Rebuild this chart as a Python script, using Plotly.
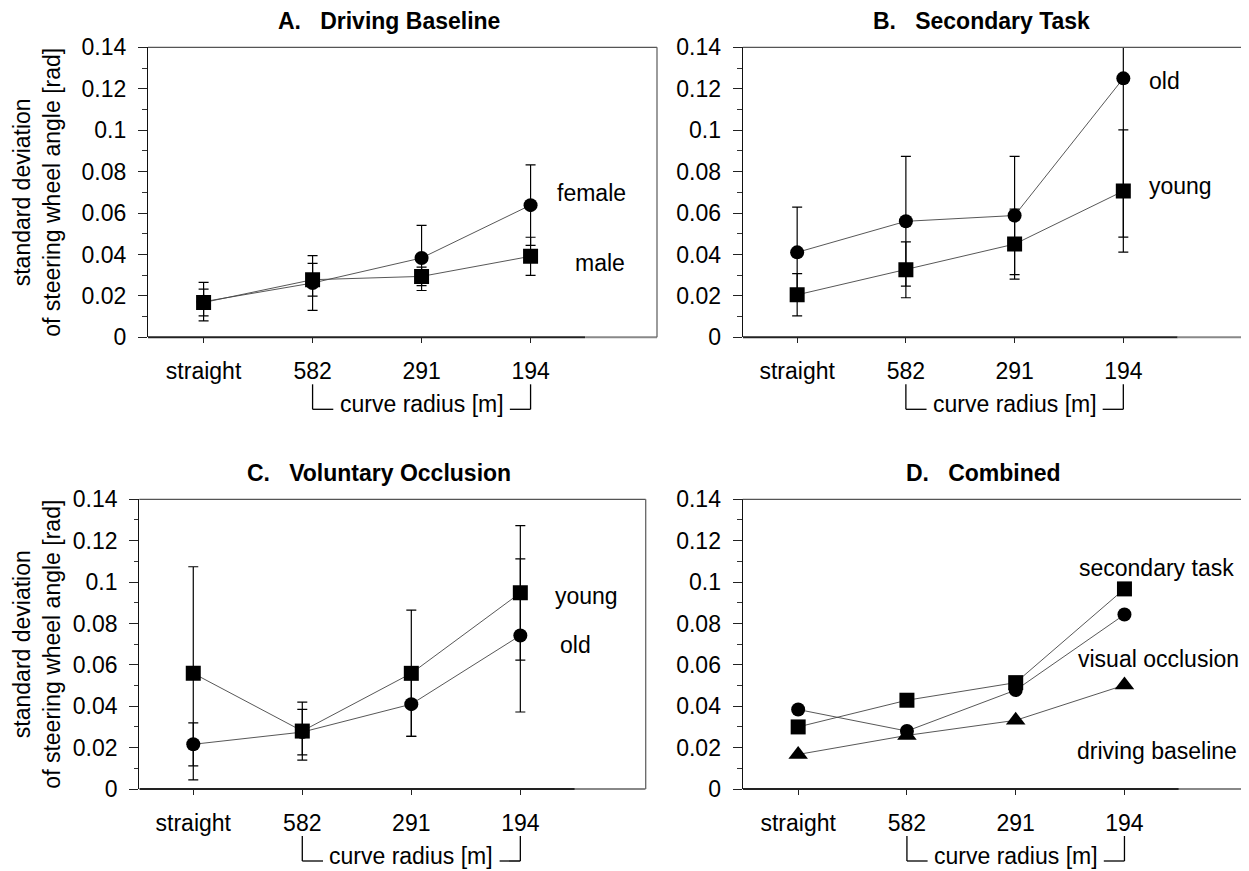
import plotly.graph_objects as go

# ---------------- data ----------------
categories = ["straight", "582", "291", "194"]
y_tick_vals = [0, 0.02, 0.04, 0.06, 0.08, 0.1, 0.12, 0.14]
y_tick_text = ["0", "0.02", "0.04", "0.06", "0.08", "0.1", "0.12", "0.14"]

# A. Driving Baseline
a_female = [0.0172, 0.0262, 0.0383, 0.0638]
a_female_err = [0.0093, 0.0132, 0.0157, 0.0194]
a_male = [0.0168, 0.0278, 0.0294, 0.0391]
a_male_err = [0.0065, 0.0079, 0.0045, 0.0092]

# B. Secondary Task
b_old = [0.0410, 0.0560, 0.0588, 0.1250]
b_old_err = [0.0218, 0.0313, 0.0285, 0.0766]
b_young = [0.0205, 0.0326, 0.0450, 0.0706]
b_young_err = [0.0102, 0.0135, 0.0169, 0.0295]

# C. Voluntary Occlusion
c_young = [0.0559, 0.0280, 0.0559, 0.0948]
c_young_err = [0.0515, 0.0140, 0.0305, 0.0325]
c_old = [0.0216, 0.0275, 0.0410, 0.0742]
c_old_err = [0.0104, 0.0110, 0.0155, 0.0370]

# D. Combined
d_secondary = [0.0300, 0.0429, 0.0514, 0.0967]
d_occlusion = [0.0384, 0.0280, 0.0478, 0.0843]
d_baseline = [0.0167, 0.0259, 0.0332, 0.0502]

titles = ["A.\u00a0\u00a0\u00a0Driving Baseline", "B.\u00a0\u00a0\u00a0Secondary Task",
          "C.\u00a0\u00a0\u00a0Voluntary Occlusion", "D.\u00a0\u00a0\u00a0Combined"]
y_title = "standard deviation<br>of steering wheel angle [rad]"
bracket_text = "curve radius [m]"

# ---------------- layout geometry ----------------
# the page body has an 8px margin, so the figure is drawn 8px in from the window corner
OFF = 8
W, H = 1249 - OFF, 871 - OFF
FONT = "Liberation Sans, Arial, Helvetica, sans-serif"
FS = 23

def px_x(p):
    return (p - OFF) / W

def px_y(p):
    return 1 - (p - OFF) / H

panels = [
    dict(xd=[px_x(148), px_x(657)], yd=[px_y(337.3), px_y(47.3)], xr=[-0.51, 4.16], right=True),
    dict(xd=[px_x(742.8), 1.0], yd=[px_y(337.3), px_y(47.3)], xr=[-0.50, 4.156], right=False),
    dict(xd=[px_x(139.3), px_x(645.7)], yd=[px_y(789.0), px_y(499.3)], xr=[-0.495, 4.15], right=True),
    dict(xd=[px_x(742.7), 1.0], yd=[px_y(789.0), px_y(499.3)], xr=[-0.51, 4.145], right=False),
]

fig = go.Figure()

line_style = dict(color="#444", width=0.9)
err_style = dict(type="data", symmetric=True, color="black", thickness=1.2, width=5)

def add_series(idx, y, err, symbol, size):
    ax = "" if idx == 1 else str(idx)
    kw = dict(
        x=categories, y=y, mode="lines+markers",
        line=line_style,
        marker=dict(symbol=symbol, size=size, color="black"),
        xaxis="x" + ax, yaxis="y" + ax, showlegend=False,
    )
    if err is not None:
        kw["error_y"] = dict(array=err, **err_style)
    fig.add_trace(go.Scatter(**kw))

# Panel A
add_series(1, a_female, a_female_err, "circle", 14)
add_series(1, a_male, a_male_err, "square", 15)
# Panel B
add_series(2, b_old, b_old_err, "circle", 14)
add_series(2, b_young, b_young_err, "square", 15)
# Panel C
add_series(3, c_old, c_old_err, "circle", 14)
add_series(3, c_young, c_young_err, "square", 15)
# Panel D
add_series(4, d_baseline, None, "triangle-up", 17)
add_series(4, d_occlusion, None, "circle", 14)
add_series(4, d_secondary, None, "square", 15)

layout = dict(
    template="none",
    width=W, height=H,
    margin=dict(l=0, r=0, t=0, b=0, pad=0),
    paper_bgcolor="white", plot_bgcolor="white",
    font=dict(family=FONT, size=FS, color="black"),
    showlegend=False,
)

shapes = []
annotations = []

for i, p in enumerate(panels, start=1):
    ax = "" if i == 1 else str(i)
    xname = "xaxis" + ax
    yname = "yaxis" + ax
    layout[xname] = dict(
        domain=p["xd"], anchor="y" + ax, type="category",
        categoryorder="array", categoryarray=categories,
        range=p["xr"], showgrid=False, zeroline=False, showline=False,
        automargin=False,
        ticks="outside", ticklen=5, tickwidth=1.2, tickcolor="#222",
        tickfont=dict(size=FS, family=FONT, color="black"),
        ticklabelstandoff=8,
    )
    layout[yname] = dict(
        domain=p["yd"], anchor="x" + ax, range=[0, 0.14],
        tickvals=y_tick_vals, ticktext=y_tick_text,
        showgrid=False, zeroline=False, automargin=False,
        showline=True, linecolor="#111", linewidth=1.3,
        ticks="outside", ticklen=9, tickwidth=1.2, tickcolor="#222",
        minor=dict(ticks="outside", ticklen=4.5, tickwidth=1, tickcolor="#333",
                   dtick=0.01, tick0=0, showgrid=False),
        tickfont=dict(size=FS, family=FONT, color="black"),
        ticklabelstandoff=7,
    )
    xref = "x" + ax
    ydom = "y" + ax + " domain"
    xdom = "x" + ax + " domain"
    # bottom axis: dark part then grey continuation
    shapes.append(dict(type="line", xref=xref, yref=ydom, x0=p["xr"][0], x1=3.5, y0=0, y1=0,
                       line=dict(color="#222", width=2)))
    shapes.append(dict(type="line", xref=xref, yref=ydom, x0=3.5, x1=p["xr"][1], y0=0, y1=0,
                       line=dict(color="#888", width=2)))
    # top frame
    shapes.append(dict(type="line", xref=xdom, yref=ydom, x0=0, x1=1, y0=1, y1=1,
                       line=dict(color="#555", width=1.3)))
    if p["right"]:
        shapes.append(dict(type="line", xref=xdom, yref=ydom, x0=1, x1=1, y0=0, y1=1,
                           line=dict(color="#666", width=1.3)))
    # curve radius bracket
    for (xa, xb) in [(1, 1), (3, 3)]:
        shapes.append(dict(type="line", xref=xref, yref=ydom, ysizemode="pixel", yanchor=0,
                           x0=xa, x1=xb, y0=-47, y1=-72, line=dict(color="black", width=1.3)))
    shapes.append(dict(type="line", xref=xref, yref=ydom, ysizemode="pixel", yanchor=0,
                       x0=1, x1=1.19, y0=-72, y1=-72, line=dict(color="black", width=1.3)))
    shapes.append(dict(type="line", xref=xref, yref=ydom, ysizemode="pixel", yanchor=0,
                       x0=2.81, x1=3, y0=-72, y1=-72, line=dict(color="black", width=1.3)))
    annotations.append(dict(text=bracket_text, xref=xref, yref=ydom, x=2, y=0, yshift=-67,
                            showarrow=False, xanchor="center", yanchor="middle",
                            font=dict(size=FS, family=FONT, color="black")))
    # panel title
    annotations.append(dict(text="<b>" + titles[i - 1] + "</b>", xref=xref, yref=ydom,
                            x=1.70, y=1, yshift=26, showarrow=False,
                            xanchor="center", yanchor="middle",
                            font=dict(size=23, family=FONT, color="black")))

# y-axis titles (left column)
for yd in [panels[0]["yd"], panels[2]["yd"]]:
    annotations.append(dict(text=y_title, xref="paper", yref="paper", x=px_x(37.5),
                            y=(yd[0] + yd[1]) / 2, textangle=-90, showarrow=False,
                            xanchor="center", yanchor="middle",
                            font=dict(size=FS, family=FONT, color="black")))

# series labels
def lab(text, ax, x, y):
    annotations.append(dict(text=text, xref="x" + ax, yref="y" + ax, x=x, y=y,
                            showarrow=False, xanchor="center", yanchor="middle",
                            font=dict(size=FS, family=FONT, color="black")))

lab("female", "", 3.56, 0.0698)
lab("male", "", 3.64, 0.0358)
lab("old", "2", 3.38, 0.1238)
lab("young", "2", 3.53, 0.0730)
lab("young", "3", 3.61, 0.0932)
lab("old", "3", 3.51, 0.0697)
lab("secondary task", "4", 3.29, 0.1070)
lab("visual occlusion", "4", 3.31, 0.0627)
lab("driving baseline", "4", 3.30, 0.0186)

layout["shapes"] = shapes
layout["annotations"] = annotations
fig.update_layout(**layout)

fig.write_html("out.html")
